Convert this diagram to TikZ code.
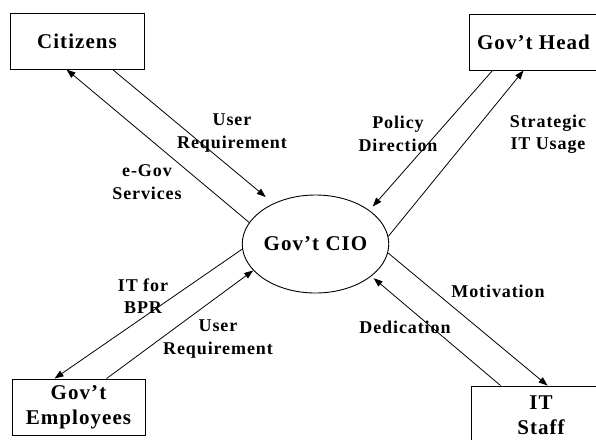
\documentclass[tikz,border=0pt]{standalone}
\usepackage{fontspec}
\setmainfont{Liberation Serif}[LetterSpace=5]
\usetikzlibrary{arrows.meta,shapes.geometric}

\begin{document}
\begin{tikzpicture}[x=1pt,y=-1pt,
    box/.style={draw,line width=0.9pt,minimum height=56pt,inner sep=0pt,align=center,
      font=\fontsize{21}{25}\selectfont\bfseries},
    lab/.style={align=center,font=\fontsize{18}{22.5}\selectfont\bfseries},
    flow/.style={line width=0.8pt,-{Triangle[length=9pt,width=6.5pt]}}]
            \useasboundingbox (0,0) rectangle (596,439);
            \clip (0,0) rectangle (596,439);

            \node[box,minimum width=134pt] (C) at (77,41) {Citizens};
            \node[box,minimum width=129pt] (H) at (533.5,42) {Gov't Head};
            \node[box,minimum width=133pt] (E) at (78.5,407) {Gov't\\Employees};
            \node[box,minimum width=140pt,minimum height=58pt] (S) at (541,415) {IT\\Staff};
            \node[box,ellipse,minimum width=141pt,minimum height=98pt] (O) at (315.5,244) {Gov't CIO};

            \node[lab] (A) at (232,133) {User\\Requirement};
            \node[lab] (B) at (147,182) {e-Gov\\Services};
            \node[lab] (P) at (398,134) {Policy\\Direction};
            \node[lab] (Q) at (548,134) {Strategic\\IT Usage};
            \node[lab] (R) at (143,296) {IT for\\BPR};
            \node[lab] (U) at (218,339) {User\\Requirement};
            \node[lab] (M) at (498,291) {Motivation};
            \node[lab] (D) at (405,327) {Dedication};

            \draw[flow] (O.162) -- ([xshift=57pt]C.south west);
            \draw[flow,shorten >=10pt] ([xshift=103pt]C.south west) -- (O.136);
            \draw[flow,shorten >=5pt] ([xshift=24pt]H.south west) -- (O.32);
            \draw[flow] (O.6) -- ([xshift=55pt]H.south west);
            \draw[flow] (O.184) -- ([xshift=43pt]E.north west);
            \draw[flow] ([xshift=95pt]E.north west) -- (O.203);
            \draw[flow] (O.353) -- ([xshift=77pt]S.north west);
            \draw[flow,shorten >=3pt] ([xshift=30pt]S.north west) -- (O.330);
          \end{tikzpicture}
\end{document}
